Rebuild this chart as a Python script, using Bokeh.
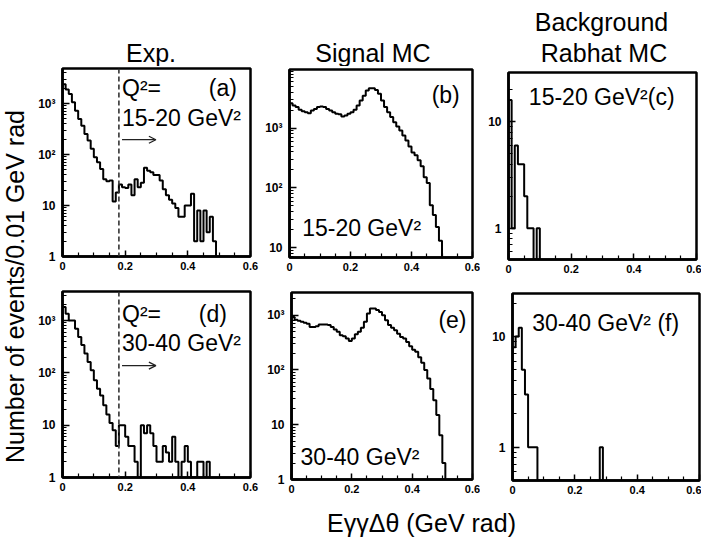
import math
from bokeh.plotting import figure
from bokeh.models import (Range1d, FixedTicker, CustomJSTickFormatter, Label, Span,
                          Arrow, OpenHead, GridPlot)
from bokeh.core.properties import value
from bokeh.embed import file_html
from bokeh.resources import INLINE

# ---------------- data (events per 0.01 GeV rad bin, bins start at 0) ----------------
BIN_WIDTH = 0.01
exp_15_20 = [2400, 1900, 1550, 1060, 730, 500, 370, 255, 190, 130, 89, 71, 52, 33, 30, 31,
             12, 18, 26, 23, 22, 26, 16, 33, 23, 28, 55, 48, 45, 40, 40, 31, 21, 16, 13, 11,
             9, 6, 6, 10, 10, 17, 2, 8, 2, 8, 3, 6, 2]
sig_15_20 = [2600, 2400, 2250, 2030, 1920, 1850, 1780, 1970, 2100, 2250, 2300, 2250, 2100,
             1970, 1850, 1740, 1700, 1570, 1630, 1740, 1850, 2030, 2400, 2900, 3500, 4260,
             4660, 4660, 4370, 3750, 2900, 2250, 1850, 1530, 1260, 1070, 915, 750, 620, 490,
             390, 350, 290, 230, 150, 120, 51, 35, 22, 13]
bkg_15_20 = [16, 1, 6, 4, 4, 2, 1, 1, 0, 1]
exp_30_40 = [1820, 1350, 1000, 1000, 700, 485, 340, 235, 162, 112, 72, 50, 37, 24, 16, 11,
             8, 4, 10, 10, 6, 4, 4, 2, 0, 10, 7, 10, 7, 4, 2, 2, 4, 3, 2, 6, 2, 1, 2, 4, 2,
             1, 1, 2, 2, 1, 2]
sig_30_40 = [930, 830, 790, 760, 730, 700, 610, 610, 630, 680, 680, 680, 660, 610, 550, 500,
             430, 415, 375, 340, 375, 450, 500, 590, 760, 1080, 1320, 1320, 1240, 1150, 1000,
             810, 660, 590, 530, 460, 400, 375, 325, 270, 235, 215, 170, 135, 100, 70, 45,
             28, 15, 6.4, 2]
bkg_30_40 = [8, 10, 12, 5, 3, 1, 1, 1, 0, 0, 0, 0, 0, 0, 0, 0, 0, 0, 0, 0, 0, 0, 0, 0, 0,
             0, 0, 0, 1]

x_major_ticks = [0, 0.2, 0.4, 0.6]
x_minor_ticks = [0.05, 0.1, 0.15, 0.25, 0.3, 0.35, 0.45, 0.5, 0.55]
q2_cut = 0.18
col_titles = ["Exp.", "Signal MC", "Background", "Rabhat MC"]
y_title = "Number of events/0.01 GeV rad"
x_title = "E\u03b3\u03b3\u0394\u03b8 (GeV rad)"

FONT = "Liberation Sans"


def no_align(p):
    try:
        p.frame_align = False
    except Exception:
        pass


def panel(vals, y_lo, y_hi, width, height, bl, br, bt, bb):
    p = figure(width=width, height=height, x_range=Range1d(0, 0.6),
               y_range=Range1d(y_lo, y_hi), y_axis_type="log",
               output_backend="svg", toolbar_location=None,
               min_border_left=bl, min_border_right=br, min_border_top=bt,
               min_border_bottom=bb)
    no_align(p)
    p.xgrid.visible = False
    p.ygrid.visible = False
    p.outline_line_color = "black"
    p.outline_line_width = 2.5
    p.outline_line_alpha = 1.0
    p.background_fill_color = "white"
    p.border_fill_color = "white"

    edges = [i * BIN_WIDTH for i in range(len(vals) + 1)]
    ys = [max(v, y_lo) for v in vals]
    xs_step = [0.0] + edges[:-1] + [edges[-1]]
    ys_step = [y_lo] + ys + [y_lo]
    p.step(xs_step, ys_step, mode="after", line_color="black", line_width=2)

    majors = [10 ** k for k in range(-1, 5) if y_lo <= 10 ** k <= y_hi]
    minors = [m * 10 ** k for k in range(-1, 5) for m in range(2, 10)
              if y_lo < m * 10 ** k < y_hi]
    p.xaxis.ticker = FixedTicker(ticks=x_major_ticks, minor_ticks=x_minor_ticks)
    p.yaxis.ticker = FixedTicker(ticks=majors, minor_ticks=minors)
    p.yaxis.formatter = CustomJSTickFormatter(code="""
        const e = Math.round(Math.log10(tick));
        if (e <= 0) return "1";
        if (e == 1) return "10";
        const sup = {2: "\u00b2", 3: "\u00b3", 4: "\u2074"};
        return "10" + sup[e];
    """)
    for ax in (p.xaxis[0], p.yaxis[0]):
        ax.axis_line_width = 2.5
        ax.axis_line_color = "black"
        ax.major_tick_out = 0
        ax.minor_tick_out = 0
        ax.major_tick_line_width = 1.5
        ax.minor_tick_line_width = 1.2
        ax.major_tick_line_color = "black"
        ax.minor_tick_line_color = "black"
        ax.major_label_text_font = FONT
        ax.major_label_text_font_style = "bold"
        ax.major_label_text_font_size = "11px"
        ax.major_label_text_color = "black"
    p.yaxis.major_label_text_font_size = "12px"
    p.xaxis.major_tick_in = 6
    p.xaxis.minor_tick_in = 4
    p.yaxis.major_tick_in = 7
    p.yaxis.minor_tick_in = 4
    p.xaxis.major_label_standoff = 5
    p.yaxis.major_label_standoff = 7
    return p


def add_text(p, x, y, text, size="23px"):
    p.add_layout(Label(x=x, y=y, text=text, text_font=FONT, text_font_size=size,
                       text_baseline="middle", text_align="left", text_color="black"))


def add_cut(p, y_arrow):
    p.add_layout(Span(location=q2_cut, dimension="height", line_color="#333333",
                      line_width=1.6, line_dash="5 3"))
    p.add_layout(Arrow(end=OpenHead(size=7, line_width=1.3, line_color="#222222"),
                       x_start=q2_cut + 0.01, y_start=y_arrow, x_end=0.298, y_end=y_arrow,
                       line_width=1.3, line_color="#222222"))


# row 1 figures: y 66..282 (height 216); row 2 figures: y 282..505 (height 223)
pa = panel(exp_15_20, 1, 4900, 228, 216, 30, 10, 2, 26)
pb = panel(sig_15_20, 6.8, 9600, 220, 216, 29, 8, 3, 25)
pc = panel(bkg_15_20, 0.51, 29, 221, 216, 28, 5, 6, 23)
pd = panel(exp_30_40, 1, 3600, 228, 223, 30, 10, 9, 28)
pe = panel(sig_30_40, 1, 2600, 220, 223, 31, 8, 10, 26)
pf = panel(bkg_30_40, 0.5, 24.5, 221, 223, 32, 2, 11, 25)

add_cut(pa, 196)
add_text(pa, 0.19, 2050, "Q\u00b2=")
add_text(pa, 0.467, 2050, "(a)")
add_text(pa, 0.19, 520, "15-20 GeV\u00b2")

add_text(pb, 0.466, 3550, "(b)")
add_text(pb, 0.0415, 21, "15-20 GeV\u00b2")

add_text(pc, 0.065, 16.9, "15-20 GeV\u00b2(c)")

add_cut(pd, 138)
add_text(pd, 0.19, 1360, "Q\u00b2=")
add_text(pd, 0.435, 1360, "(d)")
add_text(pd, 0.19, 380, "30-40 GeV\u00b2")

add_text(pe, 0.487, 810, "(e)")
add_text(pe, 0.03, 2.6, "30-40 GeV\u00b2")

add_text(pf, 0.063, 13.2, "30-40 GeV\u00b2 (f)")


def blank_fig(w, h):
    f = figure(width=w, height=h, x_range=Range1d(0, w), y_range=Range1d(0, h),
               output_backend="svg", toolbar_location=None, min_border=0,
               min_border_left=0, min_border_right=0, min_border_top=0,
               min_border_bottom=0, x_axis_location=None, y_axis_location=None)
    no_align(f)
    f.title.visible = False
    f.outline_line_color = None
    f.grid.visible = False
    f.background_fill_color = "white"
    f.border_fill_color = "white"
    return f


# column titles (pixel coordinates inside a 669 x 66 strip, y measured upward)
titles = blank_fig(669, 66)
titles.text(x=[118.5, 340.5, 569, 571.5], y=[14, 14, 45, 14], text=col_titles,
            text_font=value(FONT), text_font_size=value("25px"),
            text_align="center", text_baseline="middle", text_color="black")

# y axis title strip
ylab = blank_fig(32, 539)
ylab.text(x=[14], y=[253], text=[y_title], angle=math.pi / 2,
          text_font=value(FONT), text_font_size=value("25px"),
          text_align="center", text_baseline="middle", text_color="black")

# x axis title strip
xlab = blank_fig(669, 34)
xlab.text(x=[389], y=[17], text=[x_title],
          text_font=value(FONT), text_font_size=value("25px"),
          text_align="center", text_baseline="middle", text_color="black")

grid = GridPlot(children=[
    (ylab, 0, 0, 4, 1),
    (titles, 0, 1, 1, 3),
    (pa, 1, 1), (pb, 1, 2), (pc, 1, 3),
    (pd, 2, 1), (pe, 2, 2), (pf, 2, 3),
    (xlab, 3, 1, 1, 3),
], toolbar_location=None, spacing=0)

open("out.html", "w").write(file_html(grid, INLINE))
